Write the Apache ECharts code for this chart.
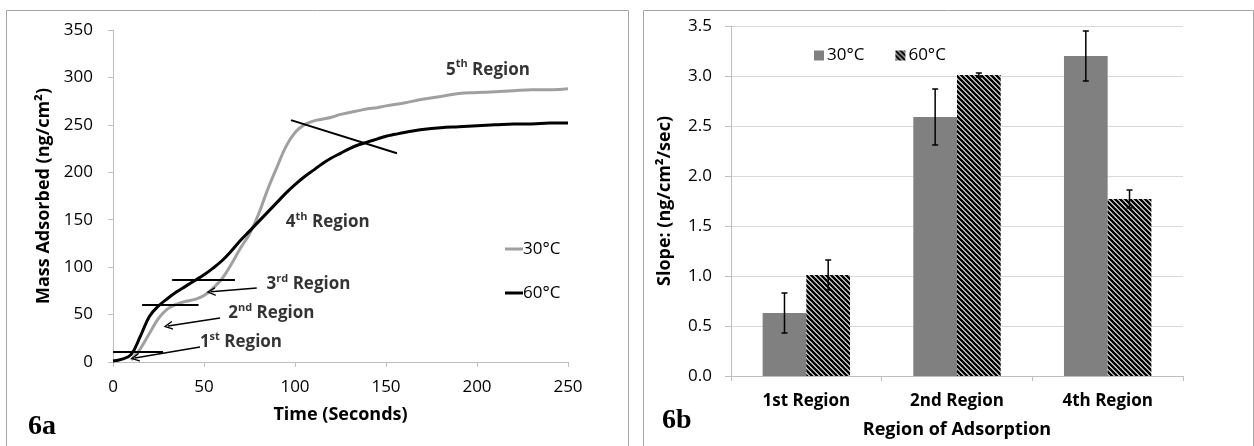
<!DOCTYPE html>
<html><head><meta charset="utf-8">
<script src="https://cdn.jsdelivr.net/npm/echarts@6/dist/echarts.min.js"></script>
<style>
html,body{margin:0;padding:0;background:#fff;width:1254px;height:446px;overflow:hidden}
#a{position:absolute;left:0;top:0;width:636px;height:446px}
#b{position:absolute;left:636px;top:0;width:618px;height:446px}
</style></head>
<body><div id="a"></div><div id="b"></div>
<script>
// ---- Panel 6a data ----
const time60 = [0,5,10,15,20,25,30,35,40,45,50,55,60,65,70,75,80,85,90,95,100,105,110,115,120,125,130,135,140,145,150,155,160,170,180,190,200,210,220,230,240,250];
const mass60 = [1,3,8,27,48,59,67,74,80,86,92,99,107,117,128,138,148,158,168,178,187,195,202,209,215,220,225,229,232,235,238,240,242,245,247,248,249,250,251,251,252,252];
const time30 = [10,13,15,20,25,30,35,40,45,50,55,60,65,70,75,80,85,90,95,100,105,110,115,120,125,130,135,140,145,150,160,170,180,190,200,210,220,230,240,250];
const mass30 = [2,9,14,30,46,56,61,64,66,70,78,88,103,120,135,156,182,205,227,242,250,254,256,258,261,263,265,267,268,270,273,277,280,283,284,285,286,287,287,288];
const markerSegs = [[[0,10.5],[27.5,10.5]], [[16,60],[47,60]], [[32.5,87],[67,87]], [[97.8,255],[156,220]]];
const arrowSegs = [[[47.8,15.8],[12,4.2]], [[58.8,46.4],[30.2,38]], [[79,78],[53.8,74]]];
const regNum = ['1','2','3','4','5'];
const regSup = ['st','nd','rd','th','th'];
const regX = [70.3, 87, 107.4, 118, 206];
const regY = [21, 51.7, 82, 147.6, 308];
// ---- Panel 6b data ----
const regionCats = ['1st Region','2nd Region','4th Region'];
const slope30 = [0.63, 2.59, 3.20];
const slope60 = [1.01, 3.01, 1.77];
const err30 = [0.20, 0.28, 0.25];
const err60 = [0.15, 0.02, 0.09];

const FONT = "'Open Sans', sans-serif";

function hatch(){
  const n = 5;
  const c = document.createElement('canvas'); c.width = n; c.height = n;
  const g = c.getContext('2d');
  g.fillStyle = '#fff'; g.fillRect(0,0,n,n);
  g.strokeStyle = '#000'; g.lineWidth = 2.6; g.beginPath();
  for (const k of [-n,0,n]) { g.moveTo(k-1,-1); g.lineTo(k+n+1,n+1); }
  g.stroke();
  return c;
}
const pattern = {image: hatch(), repeat: 'repeat'};

const axisCol = '#bfbfbf';
const supRich = {
  n:{fontSize:17,fontWeight:'bold',color:'#000',fontFamily:FONT,lineHeight:22},
  s:{fontSize:11,fontWeight:'bold',color:'#000',fontFamily:FONT,verticalAlign:'top',lineHeight:12}
};
const chevron = 'path://M5,0 L10,10 L8.4,10 L5,3.2 L1.6,10 L0,10 Z';

const chartA = echarts.init(document.getElementById('a'));
chartA.setOption({
  animation:false,
  textStyle:{fontFamily:FONT},
  grid:{left:113,right:68,top:30,bottom:84},
  xAxis:{type:'value',min:0,max:250,interval:50,name:'Time (Seconds)',nameLocation:'middle',nameGap:44,
    nameTextStyle:{fontSize:18,fontWeight:'bold',color:'#000',fontFamily:FONT},
    axisLine:{show:true,lineStyle:{color:axisCol}},axisTick:{show:true,length:5,lineStyle:{color:axisCol}},
    axisLabel:{fontSize:17,color:'#000',margin:17,fontFamily:FONT},splitLine:{show:false}},
  yAxis:{type:'value',min:0,max:350,interval:50,name:'Mass Adsorbed (ng/cm²)',nameLocation:'middle',nameGap:56,
    nameTextStyle:{fontSize:18,fontWeight:'bold',color:'#000',fontFamily:FONT},
    axisLine:{show:true,lineStyle:{color:axisCol}},axisTick:{show:true,length:5,lineStyle:{color:axisCol}},
    axisLabel:{fontSize:17,color:'#000',margin:20,fontFamily:FONT},splitLine:{show:false}},
  legend:{orient:'vertical',left:500,top:234,itemWidth:18,itemHeight:3,icon:'rect',itemGap:24,
    data:['30°C','60°C'],textStyle:{fontSize:17,color:'#000',fontFamily:FONT,lineHeight:20,padding:[0,0,0,-5]}},
  graphic:[
    {type:'rect',silent:true,shape:{x:6.5,y:10.5,width:622,height:500},style:{fill:'none',stroke:'#a6a6a6',lineWidth:1}},
    {type:'text',silent:true,style:{x:28,y:427,text:'6a',fontFamily:"'Liberation Serif', serif",fontSize:28,fontWeight:'bold',fill:'#000',verticalAlign:'middle'}}
  ],
  series:[
    {name:'30°C',type:'line',smooth:0.4,showSymbol:false,symbol:'none',
      data:time30.map((t,i)=>[t,mass30[i]]),
      lineStyle:{color:'#a0a0a0',width:3},itemStyle:{color:'#a0a0a0'},
      markLine:{silent:true,symbol:['none',chevron],symbolSize:9,label:{show:false},
        lineStyle:{color:'#000',width:1.5,type:'solid'},itemStyle:{color:'#000'},
        data:arrowSegs.map(s=>[{coord:s[0]},{coord:s[1]}])}},
    {name:'60°C',type:'line',smooth:0.4,showSymbol:false,symbol:'none',
      data:time60.map((t,i)=>[t,mass60[i]]),
      lineStyle:{color:'#000',width:3},itemStyle:{color:'#000'},
      markLine:{silent:true,symbol:['none','none'],label:{show:false},
        lineStyle:{color:'#000',width:2,type:'solid'},
        data:markerSegs.map(s=>[{coord:s[0]},{coord:s[1]}])}},
    {type:'scatter',silent:true,symbolSize:1,itemStyle:{color:'rgba(0,0,0,0)'},z:5,
      data:regX.map((x,i)=>[x,regY[i],i]),
      label:{show:true,position:'inside',
        formatter:p=>`{n|${regNum[p.data[2]]}}{s|${regSup[p.data[2]]}}{n| Region}`,rich:supRich}}
  ]
});

const chartB = echarts.init(document.getElementById('b'));
const BAR_FRAC = 0.29;
chartB.setOption({
  animation:false,
  textStyle:{fontFamily:FONT},
  grid:{left:95,right:71,top:26,bottom:70},
  xAxis:{type:'category',data:regionCats,name:'Region of Adsorption',nameLocation:'middle',nameGap:45,
    nameTextStyle:{fontSize:18,fontWeight:'bold',color:'#000',fontFamily:FONT},
    axisLine:{show:true,lineStyle:{color:axisCol}},axisTick:{show:true,length:5,lineStyle:{color:axisCol}},
    axisLabel:{fontSize:17,fontWeight:'bold',color:'#000',margin:17,fontFamily:FONT}},
  yAxis:{type:'value',min:0,max:3.5,interval:0.5,name:'Slope: (ng/cm²/sec)',nameLocation:'middle',nameGap:57,
    nameTextStyle:{fontSize:18,fontWeight:'bold',color:'#000',fontFamily:FONT},
    axisLine:{show:true,lineStyle:{color:axisCol}},axisTick:{show:true,length:6,lineStyle:{color:axisCol}},
    axisLabel:{fontSize:17,color:'#000',margin:19,fontFamily:FONT,formatter:v=>v.toFixed(1)},
    splitLine:{show:true,lineStyle:{color:'#d9d9d9'}}},
  legend:{left:173,top:42,itemWidth:10,itemHeight:10,icon:'rect',itemGap:31,
    data:['30°C','60°C'],textStyle:{fontSize:17,color:'#000',fontFamily:FONT,padding:[0,0,0,-2]}},
  graphic:[
    {type:'rect',silent:true,shape:{x:7.5,y:10.5,width:610,height:500},style:{fill:'none',stroke:'#a6a6a6',lineWidth:1}},
    {type:'text',silent:true,style:{x:26,y:421,text:'6b',fontFamily:"'Liberation Serif', serif",fontSize:28,fontWeight:'bold',fill:'#000',verticalAlign:'middle'}}
  ],
  series:[
    {name:'30°C',type:'bar',barWidth:(BAR_FRAC*100)+'%',barGap:'0%',data:slope30,itemStyle:{color:'#808080'}},
    {name:'60°C',type:'bar',barWidth:(BAR_FRAC*100)+'%',barGap:'0%',data:slope60,itemStyle:{color:pattern}},
    {type:'custom',silent:true,z:10,encode:{x:0,y:1},
      data:slope30.map((v,i)=>[i,v,err30[i],-1]).concat(slope60.map((v,i)=>[i,v,err60[i],1])),
      renderItem:(params,api)=>{
        const i=api.value(0), v=api.value(1), e=api.value(2), s=api.value(3);
        const band=api.size([1,0])[0];
        const p1=api.coord([i,v+e]), p2=api.coord([i,v-e]);
        const x=p1[0]+s*band*BAR_FRAC/2;
        const cw=3, st={stroke:'#000',lineWidth:1.5};
        return {type:'group',children:[
          {type:'line',shape:{x1:x,y1:p1[1],x2:x,y2:p2[1]},style:st},
          {type:'line',shape:{x1:x-cw,y1:p1[1],x2:x+cw,y2:p1[1]},style:st},
          {type:'line',shape:{x1:x-cw,y1:p2[1],x2:x+cw,y2:p2[1]},style:st}
        ]};
      }}
  ]
});
</script>
</body></html>
